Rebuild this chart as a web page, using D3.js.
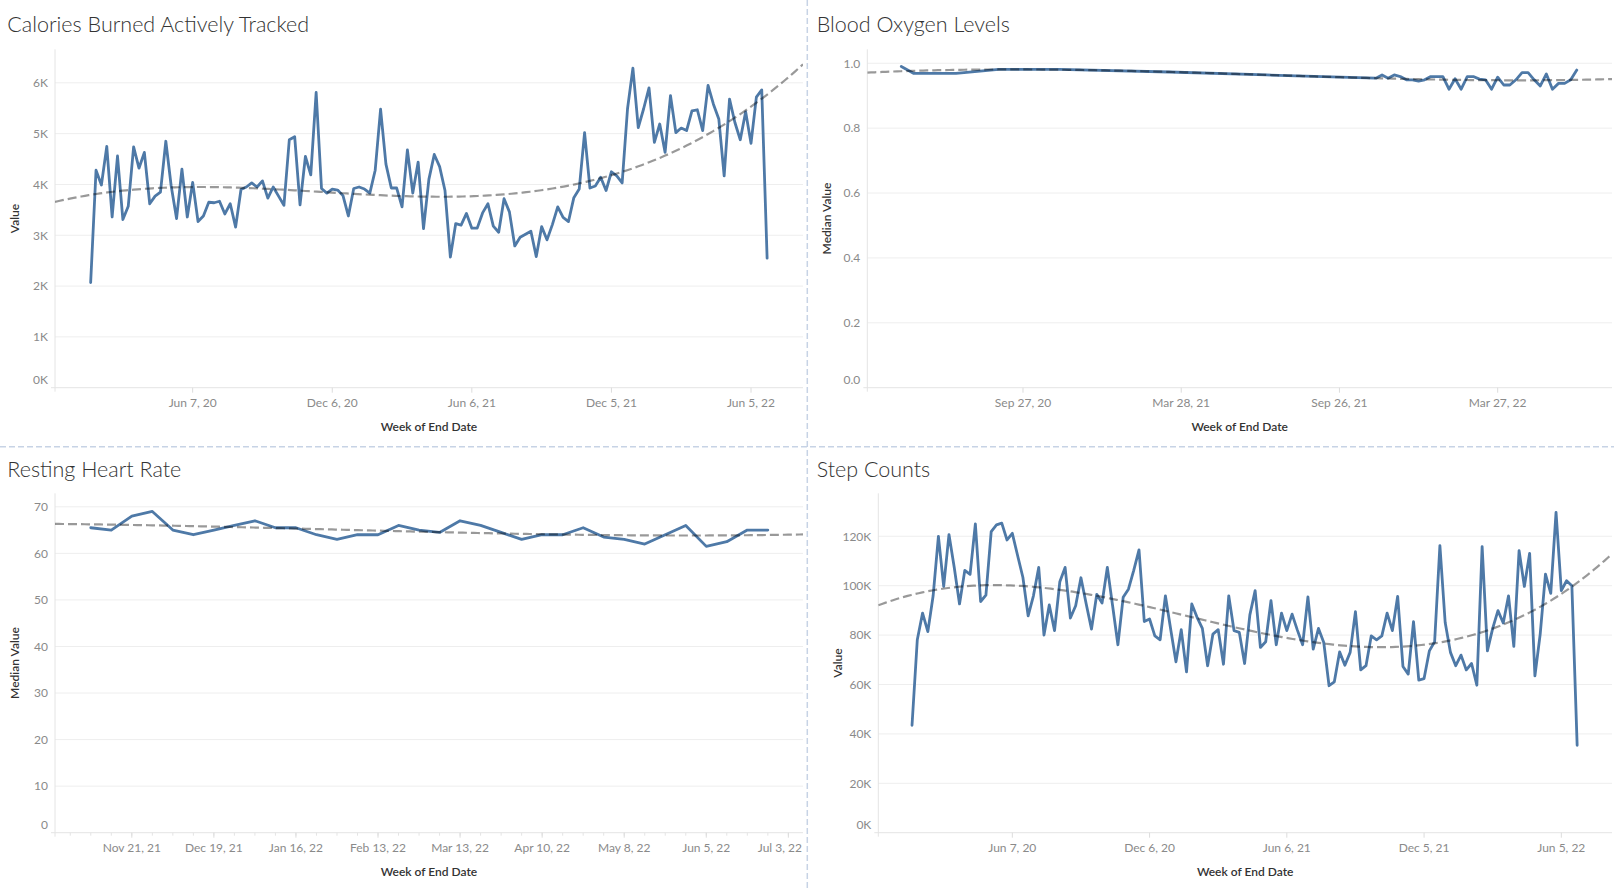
<!DOCTYPE html>
<html><head><meta charset="utf-8">
<script src="https://cdn.jsdelivr.net/npm/d3@7"></script>
<style>
body{margin:0;background:#fff}
svg{display:block}
text{font-family:Lato,"Open Sans",sans-serif}
</style>
</head><body>
<svg id="chart" width="1614" height="889"></svg>
<script>
// ---------------- DATA ----------------
// Weekly categories (Sunday week starts, "Week of End Date")
const weeksLong = d3.timeWeek.range(new Date(2020,0,26), new Date(2022,5,27)); // Jan 26, 2020 .. Jun 26, 2022
const weeksShort = d3.timeWeek.range(new Date(2021,10,7), new Date(2022,5,27)); // Nov 7, 2021 .. Jun 26, 2022

const caloriesValues = [2070,4280,3990,4750,3360,4560,3310,3570,4740,4320,4630,3620,3770,3850,4850,3970,3330,4300,3360,4040,
3270,3380,3650,3640,3670,3420,3620,3160,3900,3950,4030,3950,4070,3730,3950,3770,3590,4880,4940,3600,
4550,4190,5810,3920,3830,3910,3890,3780,3380,3920,3950,3910,3830,4280,5480,4400,3930,3930,3560,4680,
3830,4440,3130,4100,4590,4350,3880,2570,3230,3200,3430,3140,3140,3440,3620,3180,3060,3720,3460,2790,
2960,3020,3080,2580,3170,2910,3210,3560,3350,3270,3740,3910,5020,3930,3970,4140,3880,4250,4170,4030,
5490,6290,5120,5490,5900,4830,5190,4630,5750,5020,5110,5060,5450,5470,5060,5950,5580,5290,4170,5680,
5220,4880,5430,4810,5720,5860,2550];

const stepValues = [43500,78100,88900,81400,95900,120000,99700,120700,107400,92600,106200,104600,125000,93600,96200,121900,124600,125300,118500,121200,
112200,103400,87800,95900,107400,80000,92200,81800,101600,107400,86900,91900,103200,92600,82400,96500,93000,107400,91900,76100,
95300,98600,106200,114500,85500,86500,79700,78100,95900,82400,69200,82200,65100,92600,87200,82700,67600,80400,82200,68200,
95900,81800,81100,68500,88200,98000,75000,77300,93900,76100,88900,81800,88500,82000,76100,95500,74300,82700,77000,59500,
61100,73200,67800,73000,89500,65900,67600,79700,78100,79700,88900,81800,95700,67300,64200,85400,61800,62400,73600,77300,
116200,85100,73000,67600,71900,65900,68500,59700,115800,73600,82700,89900,84900,95900,75400,114200,99700,113100,63500,80400,
104700,96900,129700,98000,102000,100000,35400];

const heartRateValues = [65.5,65,68,69,65,64,65,66,67,65.5,65.5,64,63,64,64,66,65,64.5,67,66,
64.5,63,64,64,65.5,63.5,63,62,64,66,61.5,62.5,65,65];

const oxygenEarlyDates = ["2020-05-10","2020-05-24","2020-07-12","2020-08-30","2020-11-08","2021-03-14","2021-07-04"];
const oxygenEarlyValues = [0.990,0.969,0.969,0.981,0.981,0.973,0.964];
const oxygenWeeklyValues = [0.954,0.964,0.954,0.964,0.959,0.949,0.949,0.945,0.949,0.959,0.959,0.959,0.920,0.952,0.920,0.959,0.959,0.951,0.949,0.920,
0.957,0.933,0.933,0.949,0.971,0.971,0.949,0.930,0.967,0.920,0.938,0.938,0.949,0.979];

const calYTicks = [0,1000,2000,3000,4000,5000,6000];
const stepYTicks = [0,20000,40000,60000,80000,100000,120000];
const oxyYTicks = [0,0.2,0.4,0.6,0.8,1.0];
const hrYTicks = [0,10,20,30,40,50,60,70];

const longXTicks = ["2020-06-07","2020-12-06","2021-06-06","2021-12-05","2022-06-05"];
const oxyXTicks = ["2020-09-27","2021-03-28","2021-09-26","2022-03-27"];
const hrXTicks = ["2021-11-21","2021-12-19","2022-01-16","2022-02-13","2022-03-13","2022-04-10","2022-05-08","2022-06-05","2022-07-03"];

// ---------------- SETUP ----------------
const parse = d3.timeParse("%Y-%m-%d");
const fmtDate = d3.timeFormat("%b %-d, %y");
const svg = d3.select("#chart");

const oxygenDates = oxygenEarlyDates.map(parse).concat(weeksShort);
const oxygenValues = oxygenEarlyValues.concat(oxygenWeeklyValues);

const panels = [
  {title:"Calories Burned Actively Tracked", yTitle:"Value", dates:weeksLong, values:caloriesValues,
   xDom:[new Date(2019,11,10,12), new Date(2022,7,11,19)], yDom:[0,6660],
   box:{l:55,r:803,t:49.3,b:387.7}, titleX:7.3, titleY:32.3,
   yTicks:calYTicks, yFmt:v=>(v/1000)+"K", xTicks:longXTicks, minor:false},
  {title:"Blood Oxygen Levels", yTitle:"Median Value", dates:oxygenDates, values:oxygenValues,
   xDom:[new Date(2020,2,31,22), new Date(2022,7,5,12)], yDom:[0,1.043],
   box:{l:867.3,r:1612,t:49.3,b:387.7}, titleX:816.7, titleY:32.3,
   yTicks:oxyYTicks, yFmt:d3.format(".1f"), xTicks:oxyXTicks, minor:false},
  {title:"Resting Heart Rate", yTitle:"Median Value", dates:weeksShort, values:heartRateValues,
   xDom:[new Date(2021,9,25,19), new Date(2022,6,8,0)], yDom:[0,72.9],
   box:{l:55,r:803,t:493.3,b:832.7}, titleX:7.3, titleY:476.7,
   yTicks:hrYTicks, yFmt:d3.format("d"), xTicks:hrXTicks, minor:true},
  {title:"Step Counts", yTitle:"Value", dates:weeksLong, values:stepValues,
   xDom:[new Date(2019,11,12,7), new Date(2022,7,11,5)], yDom:[0,137400],
   box:{l:878.3,r:1612,t:493.3,b:832.7}, titleX:816.7, titleY:476.7,
   yTicks:stepYTicks, yFmt:v=>(v/1000)+"K", xTicks:longXTicks, minor:false}
];

function polyFit(xs, ys, deg){
  const n = deg+1;
  const A = Array.from({length:n},()=>Array(n+1).fill(0));
  for(let k=0;k<xs.length;k++){
    const p=[]; let v=1; for(let i=0;i<n;i++){p.push(v); v*=xs[k];}
    for(let i=0;i<n;i++){ for(let j=0;j<n;j++) A[i][j]+=p[i]*p[j]; A[i][n]+=p[i]*ys[k]; }
  }
  for(let i=0;i<n;i++){
    let m=i; for(let r=i+1;r<n;r++) if(Math.abs(A[r][i])>Math.abs(A[m][i])) m=r;
    const tmp=A[i]; A[i]=A[m]; A[m]=tmp;
    for(let r=0;r<n;r++){ if(r===i) continue; const f=A[r][i]/A[i][i]; for(let c=i;c<=n;c++) A[r][c]-=f*A[i][c]; }
  }
  return A.map((row,i)=>row[n]/row[i]);
}

// Dividers
svg.append("line").attr("x1",807.3).attr("x2",807.3).attr("y1",0).attr("y2",889)
  .attr("stroke","#c7d3e5").attr("stroke-width",1.5).attr("stroke-dasharray","6,3");
svg.append("line").attr("x1",0).attr("x2",1614).attr("y1",446.7).attr("y2",446.7)
  .attr("stroke","#c7d3e5").attr("stroke-width",1.5).attr("stroke-dasharray","6,3");

panels.forEach((p,pi)=>{
  const B = p.box;
  const x = d3.scaleTime().domain(p.xDom).range([B.l,B.r]);
  const y = d3.scaleLinear().domain(p.yDom).range([B.b,B.t]);
  const g = svg.append("g");

  // title
  g.append("text").attr("x",p.titleX).attr("y",p.titleY).attr("font-size",21.5)
    .attr("font-weight",300).attr("fill","#333").text(p.title);

  // gridlines
  g.selectAll(".grid").data(p.yTicks.filter(v=>v>0)).join("line")
    .attr("x1",B.l).attr("x2",B.r).attr("y1",d=>y(d)).attr("y2",d=>y(d))
    .attr("stroke","#eeeeee").attr("stroke-width",1);

  // axis lines
  g.append("line").attr("x1",B.l).attr("x2",B.l).attr("y1",B.t).attr("y2",B.b+4)
    .attr("stroke","#e4e4e4").attr("stroke-width",1);
  g.append("line").attr("x1",B.l-4).attr("x2",B.r).attr("y1",B.b).attr("y2",B.b)
    .attr("stroke","#e4e4e4").attr("stroke-width",1);

  // y tick labels
  g.selectAll(".yl").data(p.yTicks).join("text")
    .attr("x",B.l-7).attr("y",d=>d===0 ? y(d)-8.5+4.3 : y(d)+4.3)
    .attr("text-anchor","end").attr("font-size",12).attr("fill","#8a8a8a")
    .text(p.yFmt);

  // y title
  g.append("text").attr("transform",`translate(${B.l-36},${(B.t+B.b)/2}) rotate(-90)`)
    .attr("text-anchor","middle").attr("font-size",12).attr("font-weight",600).attr("fill","#333")
    .text(p.yTitle);

  // x minor ticks
  if(p.minor){
    const wk = d3.timeWeek.range(p.xDom[0], p.xDom[1]);
    g.selectAll(".mt").data(wk).join("line")
      .attr("x1",d=>x(d)).attr("x2",d=>x(d)).attr("y1",B.b).attr("y2",B.b+3)
      .attr("stroke","#e4e4e4");
  }
  // x ticks
  const xt = p.xTicks.map(parse);
  g.selectAll(".xt").data(xt).join("line")
    .attr("x1",d=>x(d)).attr("x2",d=>x(d)).attr("y1",B.b).attr("y2",B.b+5)
    .attr("stroke","#dcdcdc");
  g.selectAll(".xl").data(xt).join("text")
    .attr("x",d=>x(d)).attr("y",B.b+19.5).attr("text-anchor","middle")
    .attr("font-size",12).attr("fill","#8a8a8a").text(fmtDate)
    .each(function(){
      // keep edge labels inside the pane, as the original does
      const bb = this.getBBox();
      if(bb.x + bb.width > B.r - 1){
        d3.select(this).attr("x", +d3.select(this).attr("x") - (bb.x + bb.width - (B.r - 1)));
      }
    });

  // x title
  g.append("text").attr("x",(B.l+B.r)/2).attr("y",B.b+43.5).attr("text-anchor","middle")
    .attr("font-size",12).attr("font-weight",600).attr("fill","#333").text("Week of End Date");

  // clip
  const cid = "clip"+pi;
  svg.append("clipPath").attr("id",cid).append("rect")
    .attr("x",B.l).attr("y",B.t).attr("width",B.r-B.l).attr("height",B.b-B.t);

  const pts = p.dates.map((d,i)=>({d, v:p.values[i]}));
  // data line
  g.append("path").datum(pts).attr("clip-path",`url(#${cid})`)
    .attr("fill","none").attr("stroke","#4e79a7").attr("stroke-width",2.8)
    .attr("stroke-linejoin","round").attr("stroke-linecap","round")
    .attr("d", d3.line().x(d=>x(d.d)).y(d=>y(d.v)));

  // trend line (least-squares polynomial, degree 3)
  const t0 = +p.xDom[0], span = (+p.xDom[1]) - t0;
  const coef = polyFit(pts.map(q=>(+q.d - t0)/span), pts.map(q=>q.v), 3);
  const ev = t=>coef.reduce((s,c,i)=>s+c*Math.pow(t,i),0);
  const tr = d3.range(0,201).map(i=>({t:i/200}));
  g.append("path").datum(tr).attr("clip-path",`url(#${cid})`)
    .attr("fill","none").attr("stroke","rgba(0,0,0,0.4)").attr("stroke-width",2.2)
    .attr("stroke-dasharray","9,4")
    .attr("d", d3.line().x(d=>x(new Date(t0+d.t*span))).y(d=>y(ev(d.t))));
});
</script>
</body></html>
